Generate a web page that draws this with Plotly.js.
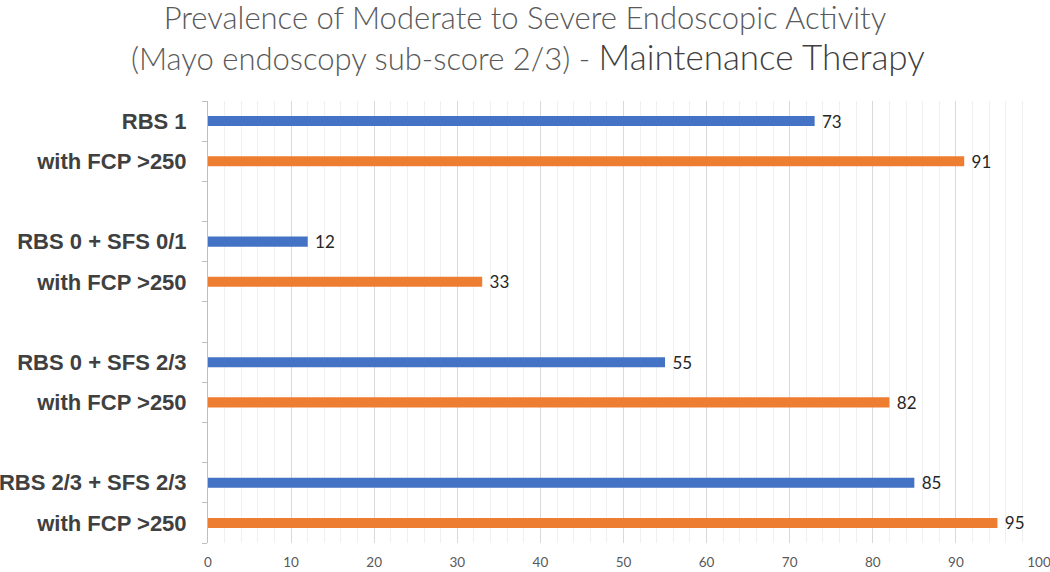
<!DOCTYPE html>
<html>
<head>
<meta charset="utf-8">
<script src="https://cdn.plot.ly/plotly-3.0.1.min.js"></script>
<style>html,body{margin:0;padding:0;background:#fff;}#chart{width:1050px;height:572px;}</style>
</head>
<body>
<div id="chart"></div>
<script>
// ---- data ----
const groups = ['RBS 1', 'RBS 0 + SFS 0/1', 'RBS 0 + SFS 2/3', 'RBS 2/3 + SFS 2/3'];
const subLabel = 'with FCP >250';
const overallValues = [73, 12, 55, 85];
const fcpValues = [91, 33, 82, 95];
const xTicks = [0, 10, 20, 30, 40, 50, 60, 70, 80, 90, 100];
const titleLine1 = 'Prevalence of Moderate to Severe Endoscopic Activity';
const titleLine2a = '(Mayo endoscopy sub-score 2/3) - ';
const titleLine2b = 'Maintenance Therapy';

// build row ids (each group: main row, FCP row, spacer row except the last)
const rowIds = [], rowText = [], mainIds = [], fcpIds = [];
groups.forEach((g, i) => {
  const a = 'r' + i + 'a', b = 'r' + i + 'b';
  rowIds.push(a); rowText.push(g); mainIds.push(a);
  rowIds.push(b); rowText.push(subLabel); fcpIds.push(b);
  if (i < groups.length - 1) { const s = 'r' + i + 's'; rowIds.push(s); rowText.push(''); }
});

const labelFont = {family: 'Lato, "Liberation Sans", sans-serif', size: 17, color: '#262626'};
const nb = '\u00a0';

const traces = [
  {type: 'bar', orientation: 'h', y: mainIds, x: overallValues, width: 0.25,
   marker: {color: '#4472C4', line: {width: 0}},
   text: overallValues.map(v => nb + v), textposition: 'outside', textfont: labelFont,
   constraintext: 'none', cliponaxis: false, hoverinfo: 'x'},
  {type: 'bar', orientation: 'h', y: fcpIds, x: fcpValues, width: 0.25,
   marker: {color: '#ED7D31', line: {width: 0}},
   text: fcpValues.map(v => nb + v), textposition: 'outside', textfont: labelFont,
   constraintext: 'none', cliponaxis: false, hoverinfo: 'x'}
];

const L = 208, R = 1039, T = 101, B = 543;
const layout = {
  width: 1050, height: 572,
  margin: {l: L, r: 1050 - R, t: T, b: 572 - B, autoexpand: false},
  paper_bgcolor: '#ffffff', plot_bgcolor: '#ffffff',
  showlegend: false,
  barmode: 'overlay',
  title: {
    text: titleLine1,
    font: {family: 'Lato, "Open Sans", sans-serif', size: 31, color: '#595959', weight: 300},
    x: 0.5, xanchor: 'center', xref: 'container',
    y: 1 - 18 / 572, yanchor: 'middle', yref: 'container'
  },
  annotations: [{
    text: titleLine2a + '<span style="font-size:35px;color:#404040">' + titleLine2b + '</span>',
    font: {family: 'Lato, "Open Sans", sans-serif', size: 31, color: '#595959', weight: 300},
    xref: 'paper', yref: 'paper', x: (528 - L) / (R - L), y: (B - 56) / (B - T),
    xanchor: 'center', yanchor: 'middle', showarrow: false
  }],
  xaxis: {
    range: [0, 100], tickvals: xTicks, ticktext: xTicks.map(String),
    showgrid: true, gridcolor: '#d9d9d9', gridwidth: 1,
    minor: {dtick: 2, showgrid: true, gridcolor: '#f0f0f0', gridwidth: 1, ticks: ''},
    zeroline: false, showline: false, ticks: '',
    tickfont: {family: 'Lato, "Open Sans", sans-serif', size: 13.5, color: '#595959'},
    ticklabelstandoff: 9, ticklabeloverflow: 'allow', automargin: false, fixedrange: true
  },
  yaxis: {
    type: 'category', categoryorder: 'array', categoryarray: rowIds,
    tickvals: rowIds, ticktext: rowText,
    autorange: 'reversed',
    tickson: 'boundaries', ticks: 'outside', ticklen: 5, tickcolor: '#bfbfbf', tickwidth: 1,
    showline: true, linecolor: '#bfbfbf', linewidth: 1,
    showgrid: false, zeroline: false,
    tickfont: {family: '"Liberation Sans", Arial, sans-serif', size: 22, color: '#404040', weight: 700},
    ticklabelstandoff: 16, automargin: false, fixedrange: true
  }
};

Plotly.newPlot('chart', traces, layout, {displayModeBar: false, staticPlot: true});
</script>
</body>
</html>
